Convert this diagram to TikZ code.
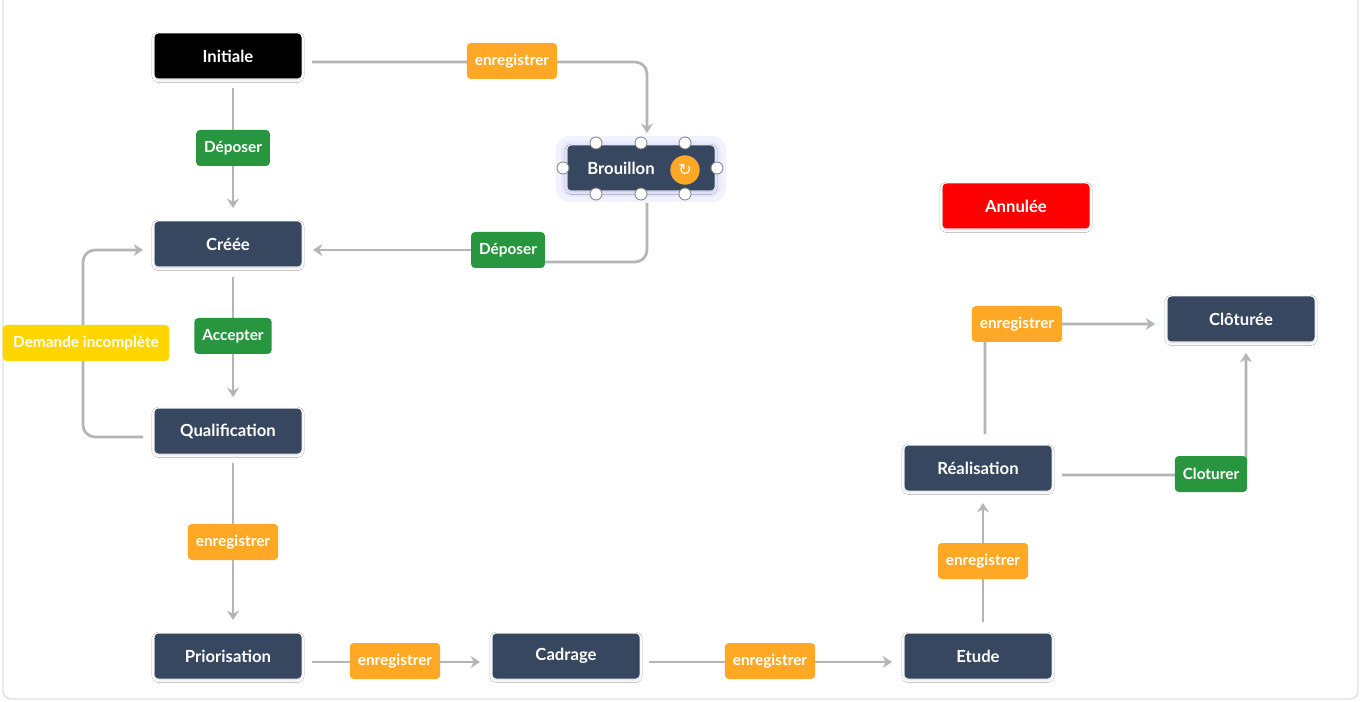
\documentclass[tikz,border=0pt]{standalone}
\usepackage{fontspec}
\setmainfont{Lato}
\newfontfamily\djv{DejaVu Sans}
\usetikzlibrary{shadows.blur,arrows.meta}
\definecolor{dk}{HTML}{36475F}
\definecolor{og}{HTML}{FFA826}
\definecolor{gn}{HTML}{28963F}
\definecolor{yl}{HTML}{FFD600}
\definecolor{ln}{HTML}{B5B5B5}
\tikzset{
 st/.style={rounded corners=3pt,minimum width=110.25pt,minimum height=33.75pt,fill=dk,text=white,font=\bfseries\fontsize{12.5}{14}\selectfont,blur shadow={shadow blur steps=6,shadow xshift=0pt,shadow yshift=-1pt,shadow opacity=15}},
 tg/.style={rounded corners=3pt,minimum height=27pt,inner xsep=6pt,text=white,font=\bfseries\fontsize{11.5}{13}\selectfont},
 og/.style={tg,fill=og}, gn/.style={tg,fill=gn},
 ar/.style={draw=ln,line width=2pt,-{Stealth[length=7pt,width=9pt]},rounded corners=9pt},
 ln/.style={draw=ln,line width=2pt,rounded corners=9pt},
 hd/.style={circle,draw=gray,fill=white,inner sep=0pt,minimum size=9pt,line width=0.6pt}
}
\begin{document}
\begin{tikzpicture}[x=0.75pt,y=-0.75pt]
\useasboundingbox (0,0) rectangle (1364,702);
\fill[white] (0,0) rectangle (1364,702);
\draw[gray!25,line width=1pt,rounded corners=6pt] (3,-10) rectangle (1358,699);
% glow
\fill[blue!5,rounded corners=10pt] (556,136) rectangle (726,202);
\fill[blue!9,rounded corners=8pt] (561,141) rectangle (721,197);
\node[st] (bro) at (641,168) {\hspace*{-30pt}Brouillon};
\node[st,fill=black] (ini) at (228,56) {Initiale};
\node[st,fill=red] (ann) at (1016,206) {Annulée};
\node[st] (cre) at (228,244) {Créée};
\node[st] (qua) at (228,431) {Qualification};
\node[st] (pri) at (228,656) {Priorisation};
\node[st] (cad) at (566,656) {Cadrage};
\node[st] (etu) at (978,656) {Etude};
\node[st] (rea) at (978,468) {Réalisation};
\node[st] (clo) at (1241,319) {Clôturée};
\node[circle,fill=og,minimum size=22pt,inner sep=0pt,text=white,font=\djv\fontsize{12}{12}\selectfont] (ico) at (685,170) {↻};
\foreach \p/\q [count=\i] in {596/143,641/143,685/143,563/168,717/168,596/194,641/194,685/194}
  \node[hd] (h\i) at (\p,\q) {};
% connectors
\coordinate (a1) at (312,62); \coordinate (a2) at (647,62); \coordinate (a3) at (647,133);
\draw[ar] (a1) -- (a2) -- (a3);
\coordinate (b1) at (647,203); \coordinate (b2) at (647,262); \coordinate (b3) at (540,262);\coordinate (b4) at (313,250);
\draw[ln] (b1) -- (b2) -- (b3);
\draw[ar] (508,250) -- (b4);
\coordinate (c1) at (233,88); \coordinate (c2) at (233,208);
\draw[ar] (c1) -- (c2);
\coordinate (d1) at (233,277); \coordinate (d2) at (233,397);
\draw[ar] (d1) -- (d2);
\coordinate (e1) at (143,437); \coordinate (e2) at (83,437); \coordinate (e3) at (83,250); \coordinate (e4) at (143,250);
\draw[ar] (e1) -- (e2) -- (e3) -- (e4);
\coordinate (f1) at (233,463); \coordinate (f2) at (233,620);
\draw[ar] (f1) -- (f2);
\coordinate (g1) at (312,662); \coordinate (g2) at (480,662);
\draw[ar] (g1) -- (g2);
\coordinate (i1) at (649,662); \coordinate (i2) at (892,662);
\draw[ar] (i1) -- (i2);
\coordinate (j1) at (983,622); \coordinate (j2) at (983,503);
\draw[ar] (j1) -- (j2);
\coordinate (k1) at (1062,475); \coordinate (k2) at (1246,475); \coordinate (k3) at (1246,353);
\draw[ar] (k1) -- (k2) -- (k3);
\coordinate (l1) at (985,434); \coordinate (l2) at (985,324); \coordinate (l3) at (1155,324);
\draw[ar] (l1) -- (l2) -- (l3);
% tags
\node[og] (t1) at (512,61) {enregistrer};
\node[gn] (t2) at (233,148) {Déposer};
\node[gn] (t3) at (508,250) {Déposer};
\node[gn] (t4) at (233,336) {Accepter};
\node[tg,fill=yl,inner xsep=1pt,minimum width=125pt] (t5) at (86,343) {Demande incomplète};
\node[og] (t6) at (233,542) {enregistrer};
\node[og] (t7) at (395,661) {enregistrer};
\node[og] (t8) at (770,661) {enregistrer};
\node[og] (t9) at (983,561) {enregistrer};
\node[og] (t10) at (1017,324) {enregistrer};
\node[gn] (t11) at (1211,474) {Cloturer};
\end{tikzpicture}
\end{document}
